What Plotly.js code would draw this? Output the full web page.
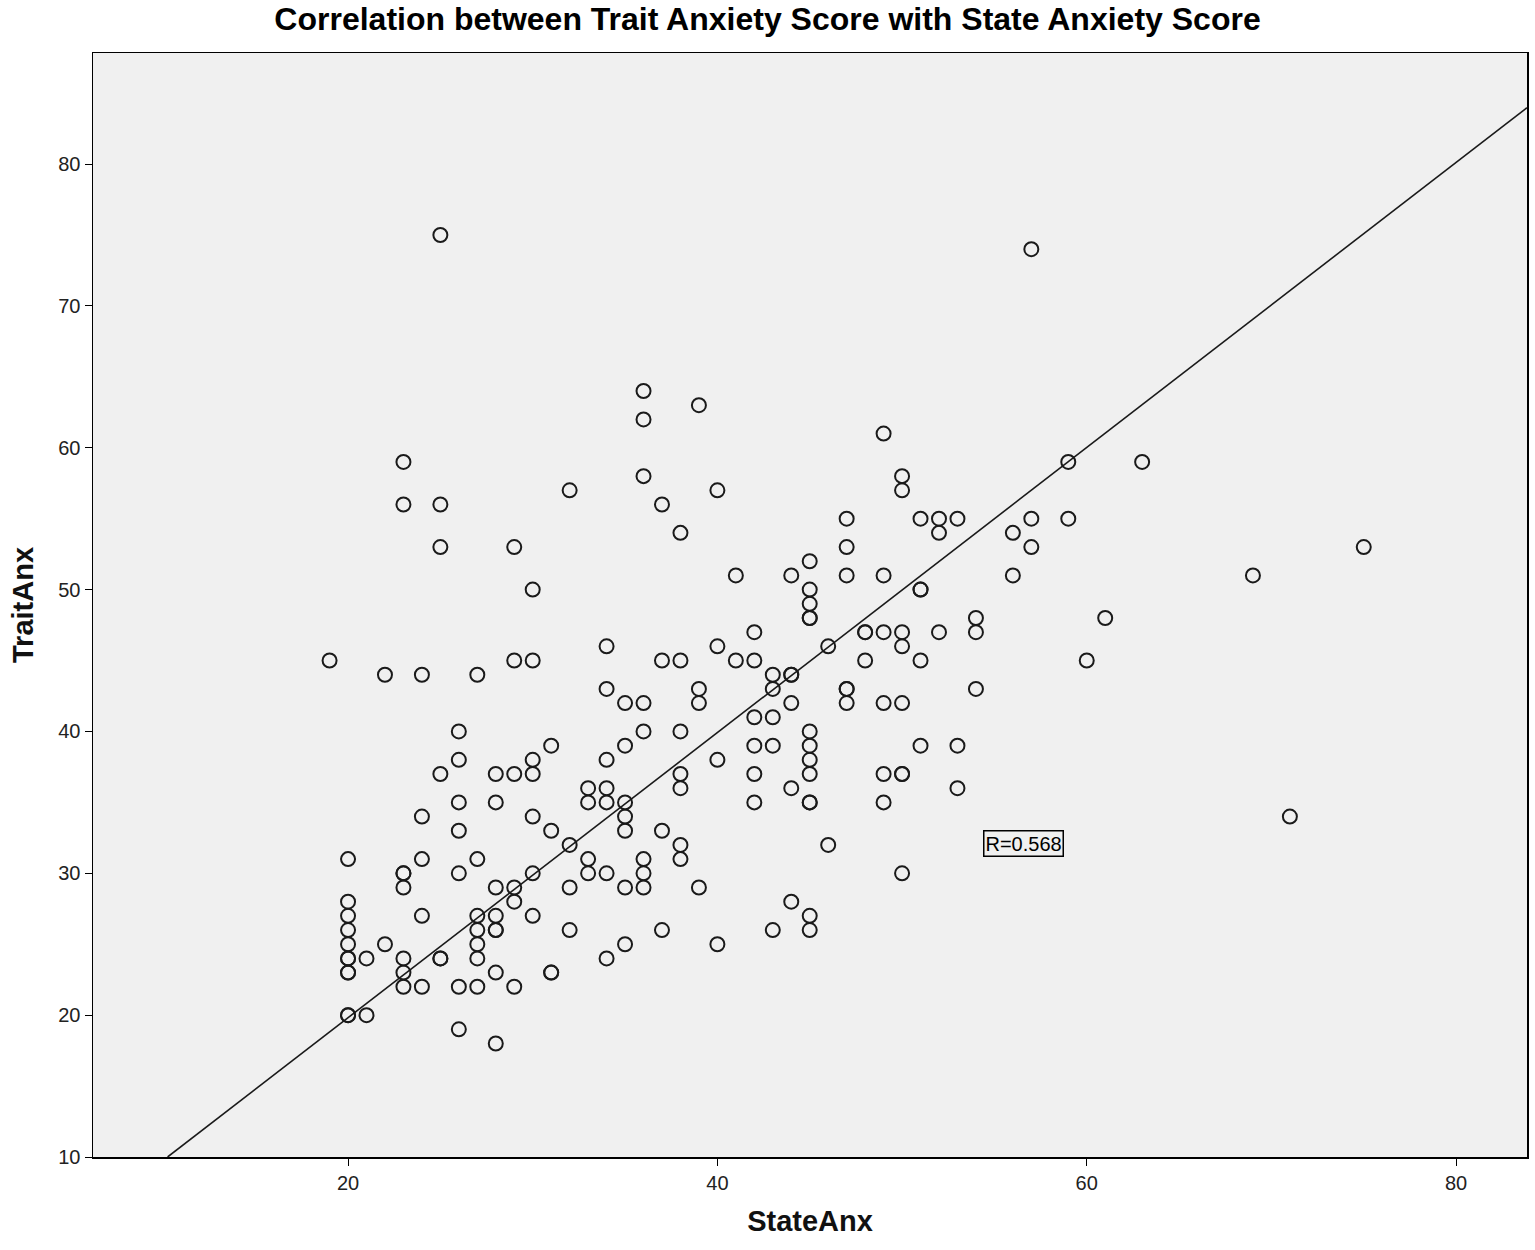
<!DOCTYPE html>
<html>
<head>
<meta charset="utf-8">
<script src="https://cdn.plot.ly/plotly-3.0.1.min.js"></script>
<style>
  html, body { margin: 0; padding: 0; background: #ffffff; }
  #chart { width: 1535px; height: 1250px; }
</style>
</head>
<body>
<div id="chart"></div>
<script>
// ---- Data (one entry per case; duplicates = overlapping cases) ----
const stateAnx = [
  19,
  20,20,20,20,20,20,20,20,20,20,20,
  21,21,
  22,22,
  23,23,23,23,23,23,23,23,
  24,24,24,24,24,
  25,25,25,25,25,25,
  26,26,26,26,26,26,26,
  27,27,27,27,27,27,27,
  28,28,28,28,28,28,28,28,
  29,29,29,29,29,29,
  30,30,30,30,30,30,30,
  31,31,31,31,
  32,32,32,32,
  33,33,33,33,
  34,34,34,34,34,34,34,
  35,35,35,35,35,35,35,
  36,36,36,36,36,36,36,36,
  37,37,37,37,
  38,38,38,38,38,38,38,
  39,39,39,39,
  40,40,40,40,
  41,41,
  42,42,42,42,42,42,
  43,43,43,43,43,
  44,44,44,44,44,44,
  45,45,45,45,45,45,45,45,45,45,45,45,45,
  46,46,
  47,47,47,47,47,47,
  48,48,48,
  49,49,49,49,49,49,
  50,50,50,50,50,50,50,50,
  51,51,51,51,51,
  52,52,52,
  53,53,53,
  54,54,54,
  56,56,
  57,57,57,
  59,59,
  60,
  61,
  63,
  69,
  71,
  75
];
const traitAnx = [
  45,
  31,28,27,26,25,24,24,23,23,20,20,
  24,20,
  44,25,
  59,56,30,30,29,24,23,22,
  44,34,31,27,22,
  75,56,53,37,24,24,
  40,38,35,33,30,22,19,
  44,31,27,26,25,24,22,
  37,35,29,27,26,26,23,18,
  53,45,37,29,28,22,
  50,45,38,37,34,30,27,
  39,33,23,23,
  57,32,29,26,
  36,35,31,30,
  46,43,38,36,35,30,24,
  42,39,35,34,33,29,25,
  64,62,58,42,40,31,30,29,
  56,45,33,26,
  54,45,40,37,36,32,31,
  63,43,42,29,
  57,46,38,25,
  51,45,
  47,45,41,39,37,35,
  44,43,41,39,26,
  51,44,44,42,36,28,
  52,50,49,48,48,40,39,38,37,35,35,27,26,
  46,32,
  55,53,51,43,43,42,
  47,47,45,
  61,51,47,42,37,35,
  58,57,47,46,42,37,37,30,
  55,50,50,45,39,
  55,54,47,
  55,39,36,
  48,47,43,
  54,51,
  74,55,53,
  59,55,
  45,
  48,
  59,
  51,
  34,
  53
];

// Fit line and correlation label
const fitIntercept = -0.28;
const fitSlope = 1.005;
const rLabel = "R=0.568";

const xTickVals = [20, 40, 60, 80];
const yTickVals = [10, 20, 30, 40, 50, 60, 70, 80];

const chartTitle = "Correlation between Trait Anxiety Score with State Anxiety Score";
const xTitle = "StateAnx";
const yTitle = "TraitAnx";

// ---- Layout / styling ----
const xRange = [6.19, 83.84];
const yRange = [10, 87.83];

const lineX0 = (yRange[0] - fitIntercept) / fitSlope;
const lineXs = [lineX0, xRange[1]];
const lineYs = lineXs.map(x => fitIntercept + fitSlope * x);

const FONT = "Liberation Sans, Arial, sans-serif";

const traces = [
  {
    type: "scatter",
    mode: "lines",
    x: lineXs,
    y: lineYs,
    line: { color: "#1a1a1a", width: 1.6 },
    hoverinfo: "skip",
    showlegend: false
  },
  {
    type: "scatter",
    mode: "markers",
    x: stateAnx,
    y: traitAnx,
    marker: {
      symbol: "circle-open",
      size: 14,
      color: "#1a1a1a",
      line: { width: 2, color: "#1a1a1a" }
    },
    showlegend: false
  }
];

const layout = {
  width: 1535,
  height: 1250,
  paper_bgcolor: "#ffffff",
  plot_bgcolor: "#f0f0f0",
  margin: { l: 93, r: 8, t: 53, b: 93 },
  font: { family: FONT, color: "#111111" },
  showlegend: false,
  title: {
    text: "<b>" + chartTitle + "</b>",
    font: { family: FONT, size: 32, color: "#000000" },
    x: 0.5, xanchor: "center",
    y: 1 - 19 / 1250, yanchor: "middle", yref: "container"
  },
  xaxis: {
    range: xRange,
    tickvals: xTickVals,
    ticks: "outside",
    ticklen: 7,
    tickwidth: 1,
    tickcolor: "#000000",
    tickfont: { family: FONT, size: 20, color: "#222222" },
    showgrid: false,
    zeroline: false,
    showline: true,
    mirror: true,
    linecolor: "#000000",
    linewidth: 1.5,
    automargin: false,
    title: {
      text: "<b>" + xTitle + "</b>",
      font: { family: FONT, size: 29, color: "#111111" },
      standoff: 18
    }
  },
  yaxis: {
    range: yRange,
    tickvals: yTickVals,
    ticks: "outside",
    ticklen: 7,
    tickwidth: 1,
    tickcolor: "#000000",
    tickfont: { family: FONT, size: 20, color: "#222222" },
    showgrid: false,
    zeroline: false,
    showline: true,
    mirror: true,
    linecolor: "#000000",
    linewidth: 1.5,
    automargin: false,
    title: {
      text: "<b>" + yTitle + "</b>",
      font: { family: FONT, size: 29, color: "#111111" },
      standoff: 16
    }
  },
  annotations: [
    {
      x: 56.55, y: 32.1, xref: "x", yref: "y",
      text: rLabel,
      showarrow: false,
      font: { family: FONT, size: 20, color: "#000000" },
      bgcolor: "#f0f0f0",
      bordercolor: "#000000",
      borderwidth: 1.5,
      borderpad: 1
    }
  ]
};

Plotly.newPlot("chart", traces, layout, { displayModeBar: false, staticPlot: true });
</script>
</body>
</html>
